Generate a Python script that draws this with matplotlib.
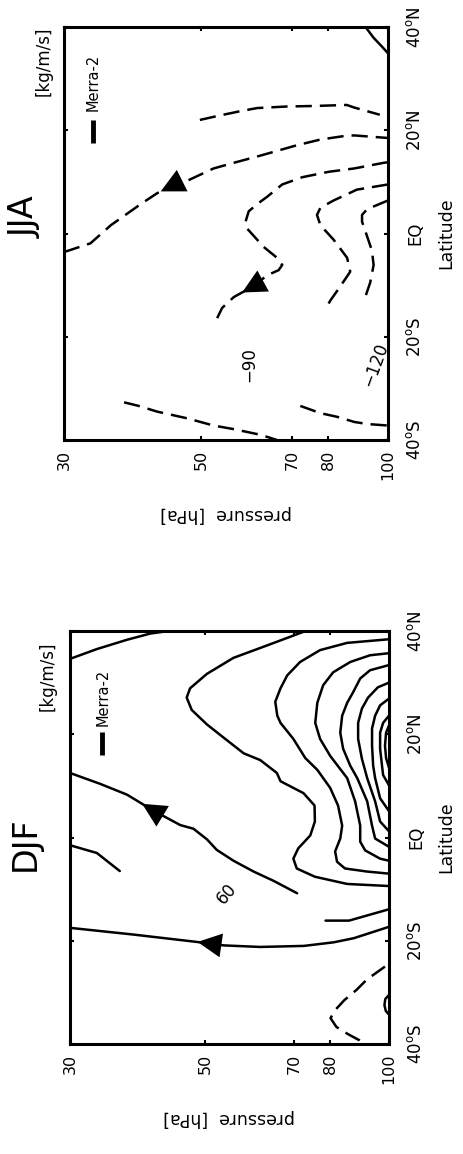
import numpy as np
import matplotlib.pyplot as plt
from matplotlib.ticker import NullLocator

plt.rcParams['font.family'] = ['DejaVu Sans']

# axes ticks
p_ticks = [30, 50, 70, 80, 100]
lat_ticks = [-40, -20, 0, 20, 40]
lat_labels = [r'40$^{\rm o}$S', r'20$^{\rm o}$S', 'EQ', r'20$^{\rm o}$N', r'40$^{\rm o}$N']

# ---- DJF contours : pressure [hPa], latitude [deg], value [kg/m/s]
djf_1_p = [30.0, 33.2, 37.2, 40.6, 43.5]
djf_1_lat = [34.6, 36.5, 38.3, 39.5, 40.0]

djf_2_p = [73.0, 63.1, 55.6, 50.3, 47.2, 46.6, 47.5, 50.3, 54.3, 57.8, 61.5, 65.5, 66.4,
           72.4, 75.5, 75.6, 74.3, 71.0, 69.7, 70.6, 75.6, 85.4, 100.0]
djf_2_lat = [40.0, 37.2, 34.8, 31.7, 28.9, 27.1, 24.7, 21.9, 18.8, 16.3, 15.0, 12.5, 10.9,
             8.6, 6.2, 3.1, 0.4, -2.1, -4.1, -6.0, -7.6, -9.0, -9.4]

djf_3_p = [30.0, 33.6, 37.2, 41.1, 45.5, 47.8, 50.3, 52.2, 55.6, 60.0, 64.7, 70.7]
djf_3_lat = [12.5, 10.4, 8.3, 5.2, 2.4, 1.7, -0.35, -2.4, -4.5, -6.6, -8.4, -10.8]

djf_4_p = [30.0, 33.2, 36.2]
djf_4_lat = [-1.5, -3.0, -6.5]

djf_5_p = [30.0, 38.1, 49.0, 53.6, 61.5, 72.5, 81.2, 87.6, 100.0]
djf_5_lat = [-17.5, -18.8, -20.3, -20.9, -21.2, -21.0, -20.3, -19.5, -17.3]

djf_6_p = [78.7, 86.0, 100.0]
djf_6_lat = [-16.1, -16.1, -13.9]

djf_7_p = [100.0, 85.4, 77.1, 71.5, 68.1, 66.4, 65.1, 65.6, 66.4, 69.7, 72.9, 76.3, 80.1,
           82.5, 83.8, 83.2, 81.6, 82.2, 84.7, 92.1, 100.0]
djf_7_lat = [38.4, 37.7, 36.3, 34.0, 31.4, 28.9, 26.3, 23.6, 22.2, 19.1, 15.4, 13.1, 9.6,
             6.2, 2.3, -0.2, -2.7, -4.7, -6.0, -6.6, -7.0]

djf_8_p = [100.0, 93.1, 86.4, 81.0, 78.0, 76.3, 75.7, 77.1, 80.1, 85.4, 88.0, 89.7, 89.7,
           91.4, 96.7, 100.0]
djf_8_lat = [35.7, 35.3, 34.0, 32.0, 29.5, 26.1, 22.2, 19.1, 15.8, 11.5, 7.0, 2.3, -0.8,
             -2.5, -4.1, -4.5]

djf_9_p = [100.0, 93.1, 89.7, 87.3, 85.4, 83.8, 83.2, 84.1, 86.4, 88.7, 92.1, 93.8, 94.9, 100.0]
djf_9_lat = [33.4, 32.4, 30.8, 28.1, 26.1, 23.6, 20.3, 17.2, 13.9, 11.5, 7.0, 2.3, -0.2, -1.8]

djf_10_p = [100.0, 95.9, 92.4, 90.3, 89.0, 89.0, 90.3, 92.1, 94.9, 96.7, 100.0]
djf_10_lat = [30.0, 29.1, 27.1, 25.0, 22.2, 19.1, 15.2, 11.5, 7.0, 3.1, 1.2]

djf_11_p = [100.0, 96.7, 94.9, 93.8, 93.8, 94.2, 94.9, 96.7, 100.0]
djf_11_lat = [26.9, 25.6, 23.6, 21.1, 17.8, 13.9, 11.5, 7.6, 5.1]

djf_12_p = [100.0, 97.8, 96.7, 96.7, 97.4, 97.8, 100.0]
djf_12_lat = [23.6, 22.2, 20.3, 17.2, 13.9, 12.1, 10.1]

djf_13_p = [100.0, 98.9, 98.5, 98.9, 100.0]
djf_13_lat = [21.7, 20.3, 17.8, 15.4, 13.5]

djf_14_p = [98.5, 92.0, 88.5, 84.5, 81.5, 80.2, 82.0, 85.4, 89.5, 91.0]
djf_14_lat = [-25.0, -27.5, -29.5, -31.5, -33.5, -35.0, -36.7, -38.0, -39.3, -40.0]

djf_15_p = [100.0, 98.6, 98.3, 98.8, 100.0]
djf_15_lat = [-30.5, -31.3, -32.5, -33.6, -34.3]

djf_values = [30, 90, 60, 60, 60, 90, 120, 150, 180, 210, 240, 270, 300, -30, 30]

# arrows : position on the line and the point they head to
djf_arrow_p = [41.1, 51.0]
djf_arrow_lat = [5.2, -20.6]
djf_arrow_to_p = [37.2, 49.0]
djf_arrow_to_lat = [8.3, -20.3]

djf_label_text = ['60']
djf_label_p = [54.3]
djf_label_lat = [-10.8]
djf_label_rot = [50]

# ---- JJA contours
jja_1_p = [49.7, 53.7, 57.8, 61.5, 68.7, 75.8, 85.8, 88.2, 92.5, 97.0]
jja_1_lat = [22.0, 22.9, 23.7, 24.3, 24.6, 24.7, 24.9, 24.4, 23.7, 23.0]

jja_2_p = [30.0, 33.1, 35.7, 39.9, 42.4, 44.9, 47.4, 52.3, 56.4, 62.3, 71.3, 77.8, 85.2, 88.2, 100.0]
jja_2_lat = [-3.6, -1.9, 1.6, 5.7, 7.8, 9.3, 10.2, 12.6, 13.7, 15.1, 17.1, 18.2, 18.9, 19.0, 18.5]

jja_3_p = [100.0, 98.5, 88.2, 80.2, 72.7, 67.5, 63.8, 61.5, 59.6, 58.9, 59.3, 63.0, 66.2, 67.5,
           66.6, 63.8, 60.7, 56.4, 54.0, 53.0]
jja_3_lat = [13.8, 13.7, 12.6, 11.95, 10.9, 9.5, 7.1, 5.7, 4.3, 2.3, 0.9, -2.6, -4.7, -6.1,
             -7.1, -8.1, -10.2, -12.3, -14.4, -16.4]

jja_4_p = [100.0, 89.1, 81.7, 77.8, 76.8, 77.8, 81.7, 85.9, 86.9, 83.8, 80.7, 79.2]
jja_4_lat = [9.5, 8.5, 6.4, 5.0, 3.6, 1.6, -1.2, -4.7, -7.4, -10.2, -13.0, -14.7]

jja_5_p = [100.0, 92.5, 90.8, 90.8, 92.5, 94.2, 94.8, 93.6, 91.9]
jja_5_lat = [6.4, 4.7, 3.6, 2.3, -0.5, -3.3, -6.1, -9.5, -12.3]

jja_6_p = [37.5, 39.6, 42.4, 47.4, 52.3, 56.4, 62.3, 66.2]
jja_6_lat = [-32.7, -33.4, -34.5, -35.8, -37.2, -37.9, -39.0, -40.0]

jja_7_p = [72.2, 77.8, 82.7, 88.2, 92.5, 100.0]
jja_7_lat = [-33.4, -34.8, -35.5, -36.5, -36.9, -37.2]

jja_8_p = [92.0, 94.8, 97.8, 100.0]
jja_8_lat = [40.0, 37.9, 36.2, 34.9]

jja_values = [-30, -60, -90, -120, -150, -60, -90, 30]

jja_arrow_p = [44.9, 60.7]
jja_arrow_lat = [9.3, -10.2]
jja_arrow_to_p = [42.4, 56.4]
jja_arrow_to_lat = [7.8, -12.3]

jja_label_text = ['\u221290', '\u2212120']
jja_label_p = [59.8, 95.5]
jja_label_lat = [-25.3, -25.5]
jja_label_rot = [90, 70]


def setup(ax, title, title_x, title_y, kg_x, kg_y, leg_x, leg_y0, leg_y1, leg_ty):
    ax.set_xscale('log')
    ax.set_xlim(30, 100)
    ax.set_ylim(-40, 40)
    ax.set_xticks(p_ticks)
    ax.set_xticklabels([str(v) for v in p_ticks], rotation=90, fontsize=11.5)
    ax.xaxis.set_minor_locator(NullLocator())
    ax.set_yticks(lat_ticks)
    ax.set_yticklabels(lat_labels, rotation=90, va='center', fontsize=12)
    ax.yaxis.tick_right()
    ax.tick_params(direction='in', length=3, width=1.5, top=True, bottom=True,
                   left=True, right=True, labelleft=False, labelright=True)
    ax.tick_params(axis='x', pad=7)
    ax.tick_params(axis='y', pad=13)
    ax.set_xlabel('pressure  [hPa]', rotation=180, fontsize=12.5, va='center')
    ax.xaxis.set_label_coords(0.5, -0.18)
    ax.yaxis.set_label_position('right')
    ax.set_ylabel('Latitude', fontsize=12.5, va='center')
    ax.yaxis.set_label_coords(1.18, 0.5)
    for s in ax.spines.values():
        s.set_linewidth(2.2)
    ax.text(title_x, title_y, title, rotation=90, transform=ax.transAxes,
            ha='center', va='center', fontsize=24)
    ax.text(kg_x, kg_y, '[kg/m/s]', rotation=90, transform=ax.transAxes,
            ha='center', va='top', fontsize=12)
    # legend entry
    ax.plot([leg_x, leg_x], [leg_y0, leg_y1], color='k', lw=3.5, transform=ax.transAxes,
            solid_capstyle='butt')
    ax.text(leg_x + 0.003, leg_ty, 'Merra-2', rotation=90, transform=ax.transAxes,
            ha='center', va='center', fontsize=10.5)


def draw_arrow(ax, p0, l0, p1, l1, size=24):
    # filled triangle centred on (p0, l0), tip towards (p1, l1), sized in pixels
    c = ax.transData.transform((p0, l0))
    t = ax.transData.transform((p1, l1))
    u = (t - c) / np.hypot(*(t - c))
    n = np.array([-u[1], u[0]])
    tip = c + u * size * 0.55
    b1 = c - u * size * 0.45 + n * size * 0.5
    b2 = c - u * size * 0.45 - n * size * 0.5
    pts = ax.transData.inverted().transform(np.array([tip, b1, b2]))
    ax.fill(pts[:, 0], pts[:, 1], color='k', lw=0, zorder=4)


def draw(ax, lines, values, arr, labels):
    for (p, lat), v in zip(lines, values):
        ls = (0, (6.5, 3.2)) if v < 0 else '-'
        ax.plot(p, lat, color='k', lw=1.8, ls=ls, dash_capstyle='butt', solid_capstyle='round')
    for p0, l0, p1, l1 in zip(*arr):
        draw_arrow(ax, p0, l0, p1, l1)
    for t, p, l, r in zip(*labels):
        ax.text(p, l, t, rotation=r, ha='center', va='center', fontsize=12)


fig = plt.figure(figsize=(4.63, 11.54), dpi=100)
ax_jja = fig.add_axes([64 / 463, 1 - 440 / 1154, 324 / 463, 413 / 1154])
ax_djf = fig.add_axes([70 / 463, 1 - 1044 / 1154, 319 / 463, 413 / 1154])

setup(ax_jja, 'JJA', -0.12, 0.54, -0.062, 1.0, 0.088, 0.718, 0.775, 0.865)
setup(ax_djf, 'DJF', -0.14, 0.485, -0.069, 0.975, 0.10, 0.70, 0.755, 0.84)

jja_lines = [(jja_1_p, jja_1_lat), (jja_2_p, jja_2_lat), (jja_3_p, jja_3_lat),
             (jja_4_p, jja_4_lat), (jja_5_p, jja_5_lat), (jja_6_p, jja_6_lat),
             (jja_7_p, jja_7_lat), (jja_8_p, jja_8_lat)]
djf_lines = [(djf_1_p, djf_1_lat), (djf_2_p, djf_2_lat), (djf_3_p, djf_3_lat),
             (djf_4_p, djf_4_lat), (djf_5_p, djf_5_lat), (djf_6_p, djf_6_lat),
             (djf_7_p, djf_7_lat), (djf_8_p, djf_8_lat), (djf_9_p, djf_9_lat),
             (djf_10_p, djf_10_lat), (djf_11_p, djf_11_lat), (djf_12_p, djf_12_lat),
             (djf_13_p, djf_13_lat), (djf_14_p, djf_14_lat), (djf_15_p, djf_15_lat)]

draw(ax_jja, jja_lines, jja_values,
     (jja_arrow_p, jja_arrow_lat, jja_arrow_to_p, jja_arrow_to_lat),
     (jja_label_text, jja_label_p, jja_label_lat, jja_label_rot))
draw(ax_djf, djf_lines, djf_values,
     (djf_arrow_p, djf_arrow_lat, djf_arrow_to_p, djf_arrow_to_lat),
     (djf_label_text, djf_label_p, djf_label_lat, djf_label_rot))

fig.savefig('out.png', dpi=100)
